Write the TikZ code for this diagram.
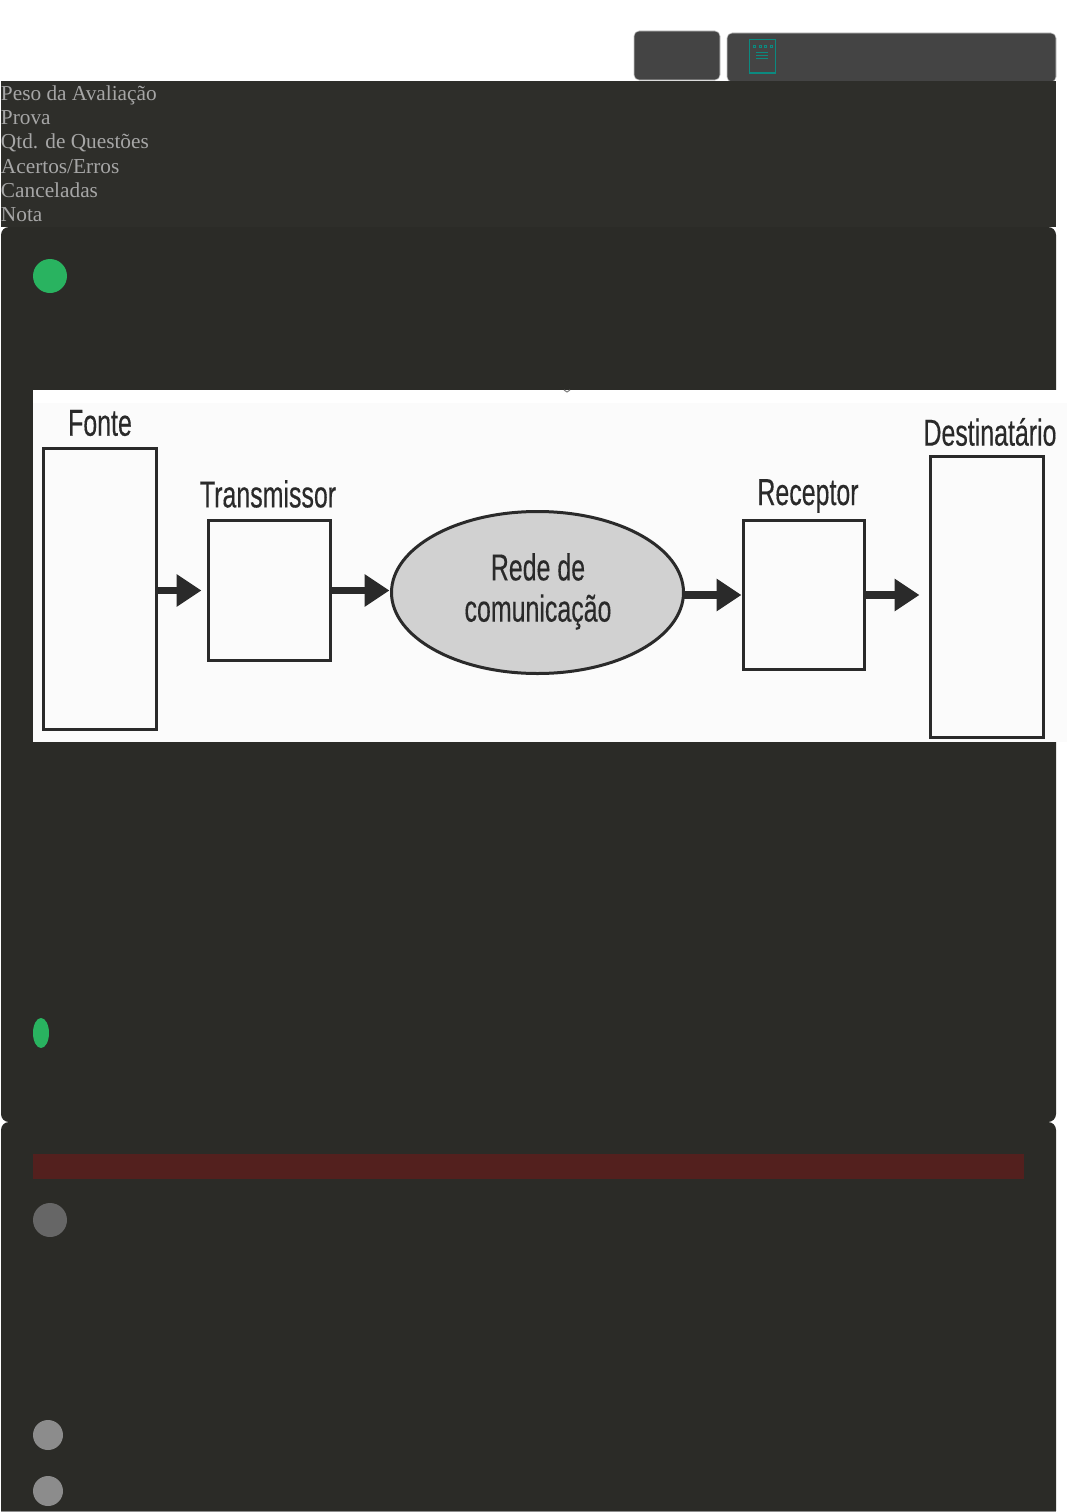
\documentclass[tikz,border=0pt]{standalone}
\usepackage{fontspec}
\setmainfont{Liberation Serif}
\newfontfamily\narrowfont[FakeStretch=0.665,FakeBold=0.25]{Liberation Sans}
\usetikzlibrary{shapes.geometric,arrows.meta}
\definecolor{bandc}{HTML}{2E2E2A}
\definecolor{panelc}{HTML}{2B2B27}
\definecolor{btnc}{HTML}{444444}
\definecolor{tealc}{HTML}{0B8A80}
\definecolor{labelc}{HTML}{A6A6A6}
\definecolor{inkc}{HTML}{2A2A2A}
\definecolor{greenc}{HTML}{29B360}
\definecolor{redc}{HTML}{53201E}
\definecolor{imgc}{HTML}{FBFBFB}
\tikzset{
  x=1pt,y=-1pt,
  btn/.style={draw=black!22,line width=.6pt,fill=btnc,rounded corners=5pt},
  rowlabel/.style={anchor=base west,inner sep=0pt,outer sep=0pt,text=labelc,font=\fontsize{21.3}{24}\selectfont},
  blockbox/.style={draw=inkc,line width=3pt,fill=imgc,inner sep=0pt,outer sep=0pt,minimum width=#1},
  caption/.style={inner sep=0pt,text=inkc,font=\narrowfont\fontsize{37.5}{44}\selectfont},
  flow/.style={draw=inkc,line width=7.5pt,-{Triangle[length=25pt,width=31pt]}},
  teal/.style={draw=tealc,line width=1pt}
}
\begin{document}
\begin{tikzpicture}
\useasboundingbox (0,0) rectangle (1067,1512);
\fill[white] (0,0) rectangle (1067,1512);
% buttons
\draw[btn] (634,31) rectangle (720,80);
\draw[btn] (727,33) rectangle (1056,82);
% icon
\draw[teal] (749,40) rectangle (775,73);
\foreach \px in {754,760,765,771}{\draw[tealc,line width=1pt] (\px-1,46) rectangle (\px+1,48);}
\foreach \py in {53,56,59}{\draw[teal] (756,\py) -- (768,\py);}
% header band
\fill[bandc] (1,81) rectangle (1056,227);
\node[rowlabel] (peso) at (1,100) {Peso da Avaliação};
\node[rowlabel] (prova) at (1,124) {Prova};
\node[rowlabel] (qtd) at (1,148) {Qtd. de Questões};
\node[rowlabel] (acertos) at (1,173) {Acertos/Erros};
\node[rowlabel] (canceladas) at (1,197) {Canceladas};
\node[rowlabel] (nota) at (1,221) {Nota};
% panels
\fill[panelc,rounded corners=8pt] (1,227) rectangle (1056,1122);
\fill[panelc,rounded corners=8pt] (1,1122) rectangle (1056,1530);
\fill[white] (0,1511) rectangle (1067,1530);
\fill[black!45] (1,1511) rectangle (1056,1512);
\fill[greenc] (50,276) circle[radius=17];
\fill[greenc] (41,1033) ellipse[x radius=8,y radius=15];
\fill[redc] (33,1154) rectangle (1024,1179);
\fill[black!60] (50,1220) circle[radius=17];
\fill[black!45] (48,1435) circle[radius=15];
\fill[black!45] (48,1491) circle[radius=15];
% figure
\fill[white] (33,390) rectangle (1067,742);
\fill[imgc] (33,403) rectangle (1067,742);
\draw[black!50,line width=1pt] (564,390) -- (567,392) -- (570,390);
\node[blockbox=113pt,minimum height=281pt] (fonte) at (100,589) {};
\node[blockbox=122pt,minimum height=140pt] (transm) at (269.5,590.5) {};
\node[ellipse,draw=inkc,line width=3pt,fill=black!18,inner sep=0pt,outer sep=0pt,minimum width=292pt,minimum height=162pt] (rede) at (537.5,592.5) {};
\node[blockbox=121pt,minimum height=149pt] (recep) at (804,595) {};
\node[blockbox=113pt,minimum height=281pt] (dest) at (987,597) {};
\node[caption] (tfonte) at (100,423) {Fonte};
\node[caption] (ttransm) at (268,494) {Transmissor};
\node[caption] (trecep) at (808,496) {Receptor};
\node[caption] (tdest) at (990,432) {Destinatário};
\node[caption] (trede) at (538,567) {Rede de};
\node[caption] (tcom) at (538,612) {comunicação};
\draw[flow,shorten >=7pt] (fonte.east |- transm.west) -- (transm.west);
\draw[flow,shorten >=2pt] (transm.east) -- (transm.east -| rede.west);
\draw[flow,shorten >=2pt] (rede.east |- recep.west) -- (recep.west);
\draw[flow,shorten >=11pt] (recep.east) -- (recep.east -| dest.west);
\end{tikzpicture}
\end{document}
